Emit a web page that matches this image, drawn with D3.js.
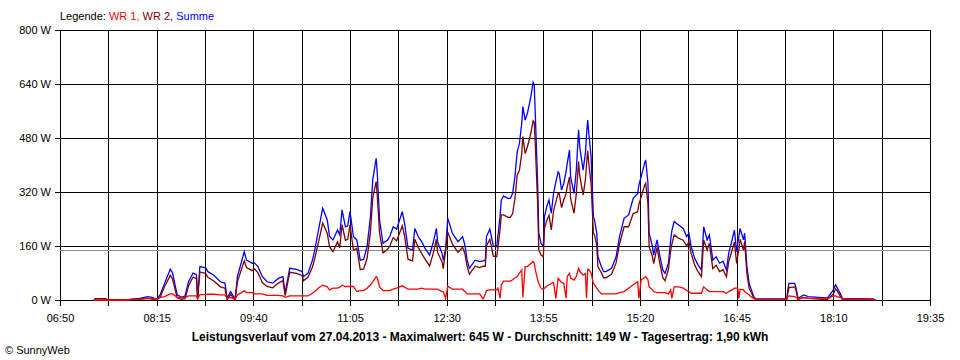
<!DOCTYPE html>
<html><head><meta charset="utf-8">
<script src="https://cdn.jsdelivr.net/npm/d3@7"></script>
<style>
html,body{margin:0;padding:0;background:#fff;}
svg{display:block;font-family:"Liberation Sans",Arial,sans-serif;}
</style></head>
<body><svg id="c" width="960" height="360"></svg>
<script>
const times = ["07:20","07:21","07:30","07:31","07:50","07:51","08:00","08:07","08:11","08:15","08:18","08:22","08:27","08:29","08:33","08:37","08:40","08:43","08:47","08:50","08:51","08:53","08:58","09:00","09:05","09:11","09:15","09:17","09:20","09:24","09:26","09:32","09:34","09:39","09:41","09:44","09:48","09:52","09:57","10:02","10:06","10:08","10:12","10:18","10:23","10:24","10:28","10:32","10:34","10:37","10:41","10:45","10:47","10:50","10:54","10:56","10:58","11:01","11:03","11:05","11:08","11:11","11:14","11:17","11:20","11:23","11:25","11:28","11:29","11:31","11:34","11:38","11:40","11:43","11:46","11:51","11:53","11:56","12:00","12:02","12:05","12:08","12:11","12:15","12:18","12:21","12:22","12:26","12:27","12:29","12:31","12:35","12:37","12:40","12:44","12:46","12:48","12:50","12:55","12:59","13:02","13:04","13:05","13:08","13:11","13:14","13:15","13:17","13:18","13:20","13:24","13:26","13:28","13:30","13:32","13:34","13:36","13:37","13:39","13:41","13:44","13:46","13:47","13:48","13:50","13:51","13:53","13:55","13:56","13:58","14:00","14:02","14:04","14:06","14:08","14:09","14:11","14:13","14:15","14:16","14:18","14:19","14:22","14:24","14:26","14:27","14:30","14:32","14:33","14:34","14:35","14:37","14:39","14:40","14:42","14:43","14:46","14:48","14:50","14:55","14:59","15:02","15:06","15:10","15:14","15:18","15:19","15:21","15:24","15:25","15:27","15:28","15:31","15:32","15:35","15:37","15:40","15:42","15:45","15:47","15:48","15:50","15:54","15:58","16:01","16:03","16:05","16:08","16:11","16:14","16:16","16:19","16:21","16:24","16:27","16:30","16:33","16:36","16:38","16:41","16:43","16:45","16:46","16:47","16:48","16:51","16:52","16:54","16:56","16:58","17:00","17:02","17:29","17:30","17:31","17:36","17:37","17:39","17:44","17:48","17:57","18:05","18:10","18:12","18:13","18:16","18:18","18:45","18:47"];

const summe = [0,4,4,0,0,2,5,10,8,2,15,50,91,80,15,8,12,54,80,75,5,99,95,84,74,54,50,6,25,3,69,143,118,109,110,99,69,54,50,64,69,21,94,91,84,69,79,118,148,202,272,237,188,178,207,193,267,217,220,262,188,178,118,120,158,247,356,420,375,237,168,178,188,217,210,262,227,153,148,212,188,173,153,133,168,212,173,138,118,150,242,198,188,173,188,163,118,94,118,114,116,118,188,210,160,158,188,250,296,308,301,301,316,365,439,464,523,573,533,553,602,645,637,543,346,198,168,158,247,277,296,257,316,350,380,375,326,346,380,405,444,365,316,385,504,454,385,435,490,533,494,425,247,237,198,128,99,84,84,94,128,188,242,252,301,316,340,365,405,415,346,198,158,133,178,138,89,79,109,178,205,232,222,212,188,198,158,124,104,89,217,178,193,118,128,109,115,89,138,178,207,143,168,190,212,178,198,99,49,30,10,3,3,30,49,49,39,5,15,10,8,6,30,45,39,20,5,3,0];

const wr1 = [0,0,0,0,0,1,2,5,5,1,8,10,18,18,8,6,8,12,12,12,3,16,16,17,17,15,15,5,8,2,15,27,22,22,18,18,18,14,14,14,12,8,12,12,12,12,12,20,25,35,44,39,30,35,35,38,44,40,40,40,40,25,28,28,35,45,54,69,66,39,28,28,28,32,35,42,38,32,32,32,32,35,32,32,32,32,32,25,25,5,41,32,32,32,32,25,18,18,18,18,3,18,28,30,30,30,35,5,44,56,56,56,60,65,69,80,89,8,99,99,108,114,110,89,60,49,35,30,35,41,45,49,52,5,64,60,52,49,5,70,79,65,59,70,94,85,74,78,5,91,90,80,49,45,35,30,18,18,18,18,18,22,25,35,45,54,5,60,66,69,60,39,30,25,22,22,22,22,18,30,5,39,39,35,28,25,20,20,20,20,39,30,25,25,25,25,25,20,25,30,35,35,35,5,32,30,25,20,15,8,5,2,2,10,12,10,8,3,8,5,5,4,12,12,10,8,3,2,0];

const wr2 = [0,4,4,0,0,1,3,5,3,1,7,40,73,62,7,2,4,42,68,63,2,83,79,67,57,39,35,1,17,1,54,116,96,87,92,81,51,40,36,50,57,13,82,79,72,57,67,98,123,167,228,198,158,143,172,155,223,177,180,222,148,153,90,92,123,202,302,351,309,198,140,150,160,185,175,220,189,121,116,180,156,138,121,101,136,180,141,113,93,145,201,166,156,141,156,138,100,76,100,96,100,100,160,180,130,128,153,210,252,252,245,245,256,300,370,384,434,484,434,454,494,531,527,454,286,149,133,128,212,236,251,208,264,290,316,315,274,297,315,335,365,300,257,315,410,369,311,357,402,442,404,345,198,192,163,98,81,66,66,76,110,166,217,217,256,262,283,305,339,346,286,159,128,108,156,116,67,57,91,148,165,193,183,177,160,173,138,104,84,69,178,148,168,93,103,84,90,69,113,148,172,108,133,150,180,148,173,79,34,22,5,1,1,20,37,39,31,2,7,5,3,2,18,33,29,12,2,1,0];

const xTickLabels = ["06:50","08:15","09:40","11:05","12:30","13:55","15:20","16:45","18:10","19:35"];
const yTicks = [0,160,320,480,640,800];
const averageW = 149;
const maximumW = 645;
const dayYield = "1,90";
const dateLabel = "27.04.2013";
const legendItems = ["WR 1","WR 2","Summe"];
const legendColors = ["#ff0000","#800000","#0000ff"];

const parse = d3.timeParse("%Y-%m-%d %H:%M");
const pt = s => parse("2013-04-27 " + s);

const svg = d3.select("#c");
const L = 60, R = 930, T = 30, B = 300;

const x = d3.scaleTime().domain([pt("06:50"), pt("19:35")]).range([L, R]);
const y = d3.scaleLinear().domain([0, 800]).range([B, T]);

const labelDates = xTickLabels.map(pt);
const gridDates = [];
labelDates.forEach((d, i) => {
  gridDates.push(d);
  if (i < labelDates.length - 1) gridDates.push(new Date((+d + +labelDates[i+1]) / 2));
});
const labelSet = new Set(labelDates.map(d => +d));

const xAxis = d3.axisBottom(x)
  .tickValues(gridDates)
  .tickSizeInner(-(306 - T))
  .tickSizeOuter(0)
  .tickPadding(8)
  .tickFormat(d => labelSet.has(+d) ? d3.timeFormat("%H:%M")(d) : "");
const gx = svg.append("g").attr("transform", "translate(0,306)").call(xAxis);
gx.select(".domain").remove();
gx.selectAll("line").attr("stroke", "#000").attr("shape-rendering", "crispEdges");
gx.selectAll("text").attr("fill", "#000").style("font-size", "11px").style("font-family", "'Liberation Sans',Arial,sans-serif");

const yAxis = d3.axisLeft(y)
  .tickValues(yTicks)
  .tickSizeInner(-(R - 55))
  .tickSizeOuter(0)
  .tickPadding(4)
  .tickFormat(d => d + " W");
const gy = svg.append("g").attr("transform", "translate(55,0)").call(yAxis);
gy.select(".domain").remove();
gy.selectAll("line").attr("stroke", "#000").attr("shape-rendering", "crispEdges");
gy.selectAll("text").attr("fill", "#000").style("font-size", "11px").style("font-family", "'Liberation Sans',Arial,sans-serif");

svg.append("line")
  .attr("x1", L).attr("x2", R)
  .attr("y1", Math.round(y(averageW)) + 0.5).attr("y2", Math.round(y(averageW)) + 0.5)
  .attr("stroke", "#8c8c8c").attr("stroke-width", 1.2);

const rows = times.map((t, i) => ({t: pt(t), s: summe[i], a: wr1[i], b: wr2[i]}));
const line = key => d3.line().x(d => x(d.t)).y(d => y(d[key]));

svg.append("path").datum(rows).attr("d", line("s"))
  .attr("fill", "none").attr("stroke", legendColors[2]).attr("stroke-width", 1.3);
svg.append("path").datum(rows).attr("d", line("b"))
  .attr("fill", "none").attr("stroke", legendColors[1]).attr("stroke-width", 1.3);
svg.append("path").datum(rows).attr("d", line("a"))
  .attr("fill", "none").attr("stroke", legendColors[0]).attr("stroke-width", 1.3);

const leg = svg.append("text").attr("x", 60).attr("y", 20).style("font-size", "11px");
leg.append("tspan").attr("fill", "#000").text("Legende: ");
legendItems.forEach((n, i) => {
  leg.append("tspan").attr("fill", legendColors[i]).text(n + (i < legendItems.length - 1 ? ", " : ""));
});

svg.append("text").attr("x", 480).attr("y", 341).attr("text-anchor", "middle")
  .style("font-size", "12px").style("font-weight", "bold").attr("fill", "#000")
  .text("Leistungsverlauf vom " + dateLabel + " - Maximalwert: " + maximumW + " W - Durchschnitt: " + averageW + " W - Tagesertrag: " + dayYield + " kWh");

svg.append("text").attr("x", 5).attr("y", 354).style("font-size", "11px").attr("fill", "#000")
  .text("\u00A9 SunnyWeb");
</script></body></html>
